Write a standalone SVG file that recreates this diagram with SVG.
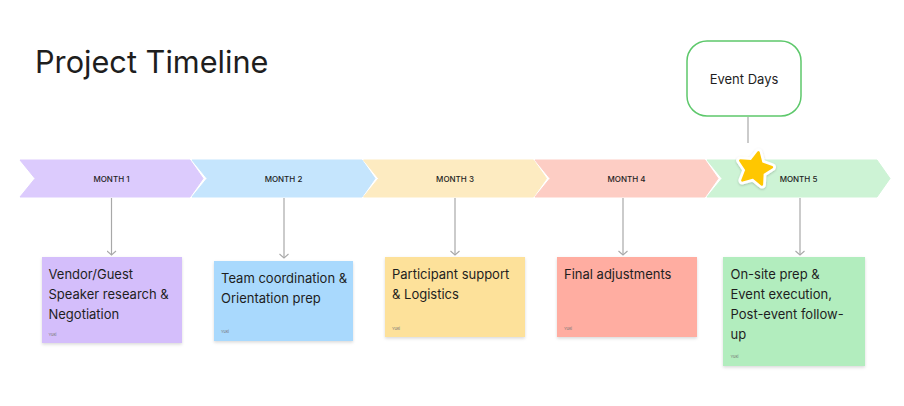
<svg xmlns="http://www.w3.org/2000/svg" width="904" height="406" viewBox="0 0 904 406">
<defs>
<style>
.title{font-family:Inter,"Noto Sans",sans-serif;font-size:30.7px;fill:#1e1e1e}
.mlabel{font-family:Inter,"Noto Sans",sans-serif;font-size:8px;font-weight:500;fill:#1e1e1e;text-anchor:middle;dominant-baseline:central}
.note{font-family:Inter,"Noto Sans",sans-serif;font-size:13px;fill:#1e1e1e}
.yuki{font-family:Inter,"Noto Sans",sans-serif;font-size:4px;fill:#777}
.conn{stroke:#a8a8a8;stroke-width:1.2;fill:none}
.evt{font-family:Inter,"Noto Sans",sans-serif;font-size:13px;fill:#1e1e1e;text-anchor:middle;dominant-baseline:central}
</style>
<marker id="arr" viewBox="0 0 10 10" refX="9" refY="5" markerWidth="10" markerHeight="10" markerUnits="userSpaceOnUse" orient="auto">
<path d="M5,0.5 L9,5 L5,9.5" fill="none" stroke="#a8a8a8" stroke-width="1.1"/>
</marker>
<filter id="sh" x="-10%" y="-10%" width="120%" height="130%">
<feDropShadow dx="0" dy="1.5" stdDeviation="1.5" flood-color="#000" flood-opacity="0.15"/>
</filter>
<filter id="ssh" x="-30%" y="-30%" width="160%" height="160%">
<feDropShadow dx="0" dy="1" stdDeviation="1.2" flood-color="#000" flood-opacity="0.2"/>
</filter>
</defs>
<rect width="904" height="406" fill="#ffffff"/>
<text class="title" x="35" y="72.5">Project Timeline</text>

<g id="month1"><path d="M20,160 H190 L203,178.5 L190,197 H20 L35,178.5 Z" fill="#dccbfd" stroke="#dccbfd" stroke-width="1" stroke-linejoin="round"/><text class="mlabel" x="111.5" y="178.5">MONTH 1</text></g>
<g id="month2"><path d="M192,160 H362 L375,178.5 L362,197 H192 L207,178.5 Z" fill="#c5e5fd" stroke="#c5e5fd" stroke-width="1" stroke-linejoin="round"/><text class="mlabel" x="283.5" y="178.5">MONTH 2</text></g>
<g id="month3"><path d="M363.5,160 H533.5 L546.5,178.5 L533.5,197 H363.5 L378.5,178.5 Z" fill="#fdebc1" stroke="#fdebc1" stroke-width="1" stroke-linejoin="round"/><text class="mlabel" x="455" y="178.5">MONTH 3</text></g>
<g id="month4"><path d="M535,160 H705 L718,178.5 L705,197 H535 L550,178.5 Z" fill="#fdcdc4" stroke="#fdcdc4" stroke-width="1" stroke-linejoin="round"/><text class="mlabel" x="626.5" y="178.5">MONTH 4</text></g>
<g id="month5"><path d="M707,160 H877 L890,178.5 L877,197 H707 L722,178.5 Z" fill="#cdf3d5" stroke="#cdf3d5" stroke-width="1" stroke-linejoin="round"/><text class="mlabel" x="798.5" y="178.5">MONTH 5</text></g>

<g id="connectors">
<line class="conn" x1="111.5" y1="198" x2="111.5" y2="255" marker-end="url(#arr)"/>
<line class="conn" x1="284" y1="198" x2="284" y2="258" marker-end="url(#arr)"/>
<line class="conn" x1="455" y1="198" x2="455" y2="255" marker-end="url(#arr)"/>
<line class="conn" x1="623" y1="198" x2="623" y2="255" marker-end="url(#arr)"/>
<line class="conn" x1="800" y1="198" x2="800" y2="255" marker-end="url(#arr)"/>
<line class="conn" x1="748" y1="117" x2="748" y2="143"/>
</g>

<g id="event-days"><rect x="687" y="41" width="114" height="75" rx="20" ry="20" fill="#ffffff" stroke="#5dc86b" stroke-width="1.5"/><text class="evt" x="744" y="79">Event Days</text></g>

<g id="star" filter="url(#ssh)">
<path d="M758.5,152.4 L761.3,163.3 L771.9,167.2 L762.4,173.3 L761.9,184.5 L753.2,177.3 L742.4,180.4 L746.5,169.9 L740.3,160.5 L751.5,161.2 Z" fill="#ffffff" stroke="#ffffff" stroke-width="8" stroke-linejoin="round"/>
<path d="M758.5,152.4 L761.3,163.3 L771.9,167.2 L762.4,173.3 L761.9,184.5 L753.2,177.3 L742.4,180.4 L746.5,169.9 L740.3,160.5 L751.5,161.2 Z" fill="#ffc700" stroke="#ffc700" stroke-width="2.5" stroke-linejoin="round"/>
</g>

<g id="note1"><rect x="42" y="257" width="140" height="86" fill="#d4befb" filter="url(#sh)"/><text class="note" x="48.5" y="279">Vendor/Guest</text><text class="note" x="48.5" y="299">Speaker research &amp;</text><text class="note" x="48.5" y="319">Negotiation</text><text class="yuki" x="48.5" y="335.5">Yuki</text></g>
<g id="note2"><rect x="214" y="261" width="139" height="80" fill="#a9d9fd" filter="url(#sh)"/><text class="note" x="221" y="283">Team coordination &amp;</text><text class="note" x="221" y="303">Orientation prep</text><text class="yuki" x="221" y="332.5">Yuki</text></g>
<g id="note3"><rect x="385" y="257" width="140" height="80" fill="#fde19a" filter="url(#sh)"/><text class="note" x="392" y="279">Participant support</text><text class="note" x="392" y="299">&amp; Logistics</text><text class="yuki" x="392" y="330">Yuki</text></g>
<g id="note4"><rect x="557" y="257" width="140" height="80" fill="#ffada1" filter="url(#sh)"/><text class="note" x="564" y="279">Final adjustments</text><text class="yuki" x="564" y="330">Yuki</text></g>
<g id="note5"><rect x="723" y="257" width="142" height="109" fill="#b2edbe" filter="url(#sh)"/><text class="note" x="730.5" y="279">On-site prep &amp;</text><text class="note" x="730.5" y="299">Event execution,</text><text class="note" x="730.5" y="319">Post-event follow-</text><text class="note" x="730.5" y="339">up</text><text class="yuki" x="730.5" y="358">Yuki</text></g>
</svg>
